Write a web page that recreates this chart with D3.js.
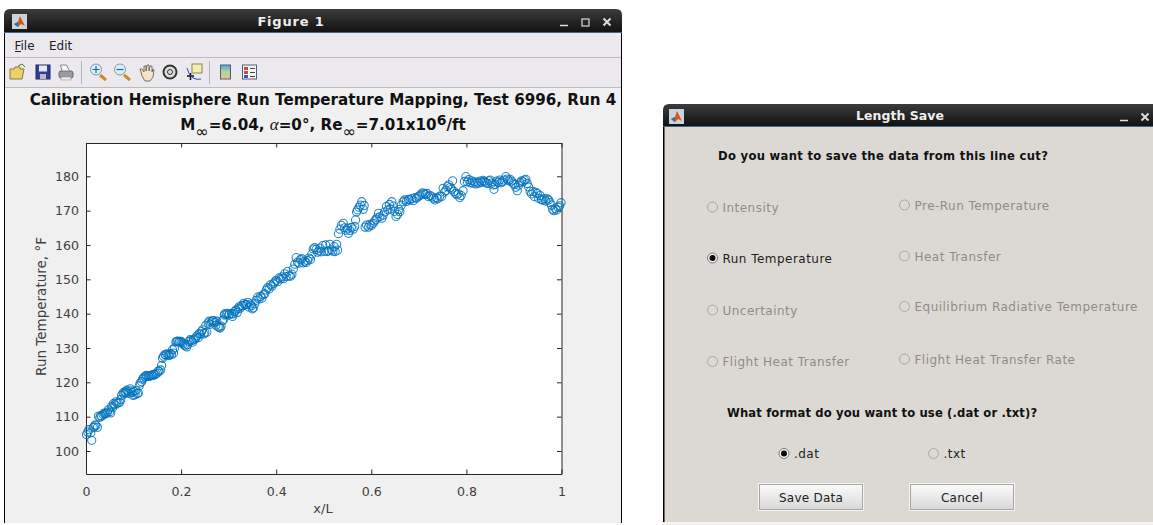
<!DOCTYPE html>
<html lang="en">
<head>
<meta charset="UTF-8">
<title>Run Temperature Line Cut</title>
<script src="https://d3js.org/d3.v7.min.js"></script>
<style>
    html, body { margin: 0; padding: 0; background: #fff; overflow: hidden; }
    svg { display: block; }
    text { font-family: "DejaVu Sans", sans-serif; }
    .tick text { font-size: 12.6px; fill: #404040; font-family: "DejaVu Sans", sans-serif; }
    .tick line, .domain { stroke: #262626; stroke-width: 1; }
</style>
</head>
<body>
<script>
// chart data
const xTicks = [0, 0.2, 0.4, 0.6, 0.8, 1];
const yTicks = [100, 110, 120, 130, 140, 150, 160, 170, 180];
const xOverL = [
  .001,.004,.006,.010,.012,.015,.017,.019,.021,.024,.026,.029,
  .031,.033,.036,.038,.040,.042,.045,.047,.050,.052,.054,.056,
  .058,.061,.063,.065,.068,.071,.073,.075,.078,.080,.082,.084,
  .086,.088,.090,.093,.095,.097,.099,.101,.103,.105,.108,.110,
  .112,.114,.117,.119,.121,.124,.126,.128,.131,.133,.135,.138,
  .140,.142,.145,.147,.150,.152,.154,.157,.159,.161,.163,.166,
  .168,.170,.173,.175,.177,.180,.182,.184,.186,.189,.191,.193,
  .195,.197,.200,.202,.204,.207,.209,.212,.214,.217,.219,.222,
  .224,.226,.229,.231,.233,.236,.238,.241,.243,.245,.248,.250,
  .252,.254,.257,.259,.261,.264,.266,.268,.271,.273,.275,.278,
  .280,.282,.284,.287,.289,.291,.292,.295,.298,.300,.302,.306,
  .308,.310,.313,.315,.318,.320,.322,.324,.327,.330,.332,.335,
  .338,.340,.343,.346,.348,.350,.352,.355,.358,.361,.364,.367,
  .370,.373,.376,.379,.382,.385,.388,.391,.394,.397,.400,.403,
  .406,.409,.412,.415,.418,.421,.424,.427,.430,.433,.436,.439,
  .442,.445,.448,.451,.454,.457,.460,.463,.466,.469,.472,.475,
  .478,.481,.484,.487,.490,.492,.495,.498,.501,.504,.507,.510,
  .513,.516,.519,.522,.524,.527,.529,.531,.534,.537,.541,.544,
  .547,.550,.552,.555,.558,.562,.565,.567,.569,.571,.574,.577,
  .580,.583,.585,.587,.590,.594,.597,.600,.604,.607,.610,.612,
  .615,.618,.622,.625,.628,.632,.635,.638,.640,.643,.646,.649,
  .652,.655,.658,.660,.663,.667,.670,.674,.678,.681,.685,.688,
  .692,.695,.699,.702,.705,.708,.711,.714,.717,.720,.724,.727,
  .731,.734,.737,.740,.744,.748,.751,.754,.757,.760,.763,.766,
  .769,.771,.774,.777,.780,.783,.786,.789,.793,.796,.799,.802,
  .805,.808,.811,.814,.817,.820,.823,.826,.829,.832,.835,.838,
  .841,.844,.847,.850,.853,.856,.858,.861,.864,.867,.870,.873,
  .876,.879,.883,.886,.889,.892,.895,.898,.901,.904,.907,.910,
  .913,.916,.919,.922,.925,.928,.931,.934,.937,.940,.943,.946,
  .949,.952,.955,.958,.961,.964,.967,.970,.973,.976,.979,.981,
  .984,.987,.990,.993,.996,.999
];
const runTemp = [
  104.8,105.5,106.2,105.3,103.1,106.8,107.0,107.6,107.4,106.9,110.1,109.8,
  110.3,110.1,110.6,111.0,110.8,110.9,111.3,112.0,111.4,111.1,113.0,112.6,
  113.8,113.5,114.3,113.9,114.0,114.2,115.0,116.2,116.9,116.6,117.3,117.0,
  117.7,117.2,116.8,118.1,117.5,117.0,116.2,117.4,116.4,117.6,116.7,116.9,
  119.0,119.8,120.2,120.9,121.3,121.6,122.0,121.8,121.9,121.7,121.9,122.1,
  122.0,122.3,122.2,122.5,122.7,123.3,123.2,123.6,124.9,127.0,127.6,128.1,
  127.9,128.3,128.0,127.8,128.4,128.1,129.5,128.5,130.0,131.8,131.9,132.0,
  131.7,131.9,131.9,131.6,131.2,130.9,130.6,130.3,131.0,131.9,132.4,132.2,
  131.7,132.3,132.6,132.9,133.5,133.0,134.2,134.0,134.8,135.3,134.1,134.5,
  136.6,134.6,137.3,137.8,136.9,137.6,137.9,138.0,137.4,136.6,137.8,136.2,
  136.0,135.8,136.4,138.0,138.2,139.6,140.0,139.8,140.1,139.6,139.9,140.0,
  139.2,139.9,140.6,141.0,140.3,141.4,142.0,141.6,142.4,142.3,143.0,142.6,
  142.6,143.3,141.9,142.8,142.3,141.4,141.7,142.9,143.9,144.8,144.3,145.0,
  144.5,145.5,145.8,146.9,147.6,147.2,148.4,148.0,148.7,149.2,149.7,149.3,
  150.4,150.1,150.7,150.2,151.6,150.8,152.3,151.0,150.9,151.5,153.0,154.4,
  156.3,155.0,154.7,155.7,156.0,154.8,155.3,154.9,155.5,156.2,155.8,157.4,
  158.8,159.2,158.7,157.9,158.3,159.1,158.0,159.8,158.2,160.0,158.1,158.3,
  160.2,158.6,158.2,159.5,158.1,160.2,158.5,163.3,164.6,165.7,166.3,165.0,
  164.3,164.9,163.4,164.2,165.1,164.6,165.4,167.3,169.6,170.2,171.0,171.6,
  172.6,170.4,171.5,165.2,165.8,165.2,166.0,165.7,166.3,167.0,167.4,167.9,
  169.2,168.2,167.8,168.7,169.6,171.2,170.2,171.8,170.5,172.6,171.3,169.8,
  168.3,168.9,170.3,169.7,171.6,172.6,173.1,172.7,173.3,173.1,173.5,172.9,
  173.8,173.6,174.1,174.4,174.8,175.2,174.9,174.7,175.0,174.1,174.4,174.0,
  173.6,173.1,173.8,173.5,174.2,174.1,176.5,175.4,175.9,177.0,177.5,176.7,
  176.2,178.7,175.6,175.0,174.6,174.9,173.8,174.4,175.8,178.5,179.9,178.4,
  179.0,178.1,178.7,178.0,178.4,177.8,178.3,178.0,178.6,178.2,178.8,178.5,
  178.2,177.9,178.7,178.9,178.0,177.5,176.2,177.6,178.6,178.2,178.9,178.1,
  178.4,178.9,179.9,179.2,178.7,179.1,178.6,178.0,177.6,176.8,175.8,177.4,
  178.2,178.7,178.4,178.9,179.1,177.9,176.9,175.6,174.9,175.6,174.1,175.3,
  175.0,173.6,174.4,173.2,173.0,173.5,172.8,173.4,173.1,172.4,171.6,170.4,
  170.0,170.6,170.2,171.0,171.4,172.3
];

// dialog text
const radioLabels = ["Intensity", "Pre-Run Temperature", "Run Temperature", "Heat Transfer",
    "Uncertainty", "Equilibrium Radiative Temperature", "Flight Heat Transfer", "Flight Heat Transfer Rate"];
const radioSelected = ["Run Temperature"];
const formatLabels = [".dat", ".txt"];
const buttonLabels = ["Save Data", "Cancel"];

const width = 1153, height = 525;
const svg = d3.select("body").append("svg").attr("width", width).attr("height", height);

const defs = svg.append("defs");
const titleGrad = defs.append("linearGradient").attr("id", "titleGrad").attr("x2", 0).attr("y2", 1);
titleGrad.append("stop").attr("offset", 0).attr("stop-color", "#3c3c3c");
titleGrad.append("stop").attr("offset", 1).attr("stop-color", "#101010");
const btnGrad = defs.append("linearGradient").attr("id", "btnGrad").attr("x2", 0).attr("y2", 1);
btnGrad.append("stop").attr("offset", 0).attr("stop-color", "#fbfbfb");
btnGrad.append("stop").attr("offset", 1).attr("stop-color", "#d8d8d8");
// the reference is a slightly soft screenshot
defs.append("filter").attr("id", "soft").append("feGaussianBlur").attr("stdDeviation", 0.3);

// small matlab logo for the title bars
function logo(x, y) {
    svg.append("rect").attr("x", x).attr("y", y).attr("width", 15).attr("height", 15).attr("fill", "#c9d3dc");
    svg.append("path").attr("d", `M${x + 2} ${y + 10}L${x + 6} ${y + 8}L${x + 8} ${y + 2}L${x + 13} ${y + 12}L${x + 9} ${y + 10}L${x + 6} ${y + 13}Z`).attr("fill", "#d9531e");
    svg.append("path").attr("d", `M${x + 2} ${y + 10}L${x + 6} ${y + 8}L${x + 6} ${y + 13}Z`).attr("fill", "#2a6fb0");
}

function titleBar(x, y, w, h, label, labelX, size, spacing) {
    svg.append("path")
        .attr("d", `M${x} ${y + h}V${y + 6}Q${x} ${y} ${x + 6} ${y}H${x + w - 6}Q${x + w} ${y} ${x + w} ${y + 6}V${y + h}Z`)
        .attr("fill", "url(#titleGrad)");
    svg.append("rect").attr("x", x).attr("y", y + h - 1).attr("width", w).attr("height", 1).attr("fill", "#3f6a8c");
    svg.append("text").attr("x", labelX).attr("y", y + h / 2 + 4.5)
        .attr("text-anchor", "middle").attr("fill", "#eeeeee")
        .attr("font-size", size).attr("font-weight", "bold").attr("letter-spacing", spacing).text(label);
}

// ---------- Figure window ----------
svg.append("rect").attr("x", 4).attr("y", 33).attr("width", 618).attr("height", 490).attr("fill", "#000");
svg.append("rect").attr("x", 5).attr("y", 33).attr("width", 616).attr("height", 24).attr("fill", "#ebe9ee");
svg.append("rect").attr("x", 5).attr("y", 57).attr("width", 616).attr("height", 1).attr("fill", "#bdbbbf");
svg.append("rect").attr("x", 5).attr("y", 58).attr("width", 616).attr("height", 29).attr("fill", "#ebe9ee");
svg.append("rect").attr("x", 5).attr("y", 87).attr("width", 616).attr("height", 1).attr("fill", "#bdbbbf");
svg.append("rect").attr("x", 5).attr("y", 88).attr("width", 616).attr("height", 435).attr("fill", "#f0f0f0");
titleBar(4, 9, 618, 24, "Figure 1", 291, 13, 0.8);
logo(12, 14);

// window buttons
const wb = svg.append("g").attr("stroke", "#dddddd").attr("fill", "none").attr("stroke-width", 1.5);
wb.append("path").attr("d", "M560 25.5h8");
wb.append("rect").attr("x", 582).attr("y", 19).attr("width", 7).attr("height", 7).attr("stroke-width", 1.2);
wb.append("path").attr("d", "M603.5 18.5l7 7m0 -7l-7 7").attr("stroke-width", 2);

// menu
svg.append("text").attr("x", 14.5).attr("y", 50).attr("font-size", 12).attr("fill", "#222")
    .attr("font-family", "Liberation Sans").text("File");
svg.append("rect").attr("x", 15).attr("y", 51).attr("width", 6).attr("height", 1).attr("fill", "#222");
svg.append("text").attr("x", 49).attr("y", 50).attr("font-size", 12).attr("fill", "#222")
    .attr("font-family", "Liberation Sans").text("Edit");

// toolbar icons
const tb = svg.append("g");
tb.append("path").attr("d", "M10 79V69h4l1 -2h5v2h4l-2 10Z").attr("fill", "#f0cf6a").attr("stroke", "#8a7a32");
tb.append("path").attr("d", "M18 66l4 -2 3 3").attr("fill", "none").attr("stroke", "#4a7a3a");
tb.append("rect").attr("x", 36).attr("y", 65).attr("width", 14).attr("height", 14).attr("fill", "#2f3f9a").attr("stroke", "#1f2a66");
tb.append("rect").attr("x", 39).attr("y", 65.5).attr("width", 8).attr("height", 6).attr("fill", "#e8e8f0");
tb.append("rect").attr("x", 40).attr("y", 74).attr("width", 6).attr("height", 5).attr("fill", "#b8b8c8");
tb.append("rect").attr("x", 59).attr("y", 71).attr("width", 14).attr("height", 7).attr("rx", 2).attr("fill", "#9a9aa0").attr("stroke", "#66666a");
tb.append("path").attr("d", "M62 71L60.5 65h6l3 6Z").attr("fill", "#f4f4f4").attr("stroke", "#888");
tb.append("rect").attr("x", 61).attr("y", 77).attr("width", 10).attr("height", 3).attr("fill", "#e8e8e8").attr("stroke", "#888").attr("stroke-width", 0.5);
[81, 209].forEach(x => tb.append("rect").attr("x", x).attr("y", 61).attr("width", 1).attr("height", 23).attr("fill", "#b5b3b8"));
[[96, "M92.5 69.5h7M96 66v7"], [120, "M116.5 69.5h7"]].forEach(([cx, sign]) => {
    tb.append("path").attr("d", `M${cx + 4} 75l6 5`).attr("stroke", "#d08a2a").attr("stroke-width", 3);
    tb.append("circle").attr("cx", cx).attr("cy", 69.5).attr("r", 5.5).attr("fill", "#dcecf6").attr("stroke", "#7a9ab0");
    tb.append("path").attr("d", sign).attr("stroke", "#2a6a8a").attr("stroke-width", 1.2);
});
tb.append("path").attr("d", "M141 72l-1 -3 2 0 2 3 0 -6 2 0 0 5 1 -6 2 0 0 6 1 -5 2 0 0 6 1 -3 1 1 -1 7 -3 4h-5l-3 -5Z")
    .attr("fill", "#f6e2c8").attr("stroke", "#555").attr("stroke-width", 0.8);
tb.append("circle").attr("cx", 170).attr("cy", 72).attr("r", 6.5).attr("fill", "#dddddd").attr("stroke", "#333").attr("stroke-width", 2);
tb.append("circle").attr("cx", 170).attr("cy", 72).attr("r", 2.5).attr("fill", "none").attr("stroke", "#333");
tb.append("rect").attr("x", 192).attr("y", 64).attr("width", 10).attr("height", 9).attr("fill", "#f2eeb0").attr("stroke", "#8a8a3a");
tb.append("path").attr("d", "M187 76h7M190.5 73v7").attr("stroke", "#111").attr("stroke-width", 1.5);
tb.append("path").attr("d", "M187 68q2 8 6 10t8 1").attr("fill", "none").attr("stroke", "#3344cc");
const cbGrad = defs.append("linearGradient").attr("id", "cbGrad").attr("x2", 0).attr("y2", 1);
[["0", "#5aa0d8"], ["0.5", "#a8d8a0"], ["1", "#f0c080"]].forEach(s => cbGrad.append("stop").attr("offset", s[0]).attr("stop-color", s[1]));
tb.append("rect").attr("x", 220.5).attr("y", 65).attr("width", 10).attr("height", 14).attr("fill", "url(#cbGrad)").attr("stroke", "#50607a");
tb.append("rect").attr("x", 242.5).attr("y", 65).attr("width", 14).attr("height", 14).attr("fill", "#f6f6f6").attr("stroke", "#50607a");
[[244, 67, "#d84040"], [244, 71, "#d84040"], [244, 75, "#4050d0"]].forEach(r => tb.append("rect").attr("x", r[0]).attr("y", r[1]).attr("width", 4).attr("height", 3).attr("fill", r[2]));
[68, 72, 76].forEach(y => tb.append("rect").attr("x", 250).attr("y", y).attr("width", 5).attr("height", 1).attr("fill", "#444"));

// title
svg.append("text").attr("x", 323).attr("y", 105).attr("text-anchor", "middle")
    .attr("font-size", 15.15).attr("font-weight", "bold").attr("fill", "#111")
    .text("Calibration Hemisphere Run Temperature Mapping, Test 6996, Run 4");
const sub = svg.append("text").attr("x", 323).attr("y", 130).attr("text-anchor", "middle")
    .attr("font-size", 15.15).attr("font-weight", "bold").attr("fill", "#111");
sub.append("tspan").text("M");
sub.append("tspan").attr("dy", 7).attr("font-size", 16).attr("font-weight", "normal").text("∞");
sub.append("tspan").attr("dy", -7).text("=6.04, ");
sub.append("tspan").attr("font-family", "Liberation Serif").attr("font-style", "italic").attr("font-weight", "normal").attr("font-size", 17).text("α");
sub.append("tspan").text("=0°, Re");
sub.append("tspan").attr("dy", 7).attr("font-size", 16).attr("font-weight", "normal").text("∞");
sub.append("tspan").attr("dy", -7).text("=7.01x10");
sub.append("tspan").attr("dy", -5).attr("font-size", 14).text("6");
sub.append("tspan").attr("dy", 5).text("/ft");

// axes
const plot = { left: 86, right: 561.5, top: 143, bottom: 474 };
svg.append("rect").attr("x", plot.left).attr("y", plot.top)
    .attr("width", plot.right - plot.left).attr("height", plot.bottom - plot.top).attr("fill", "#fff");

const xScale = d3.scaleLinear().domain([0, 1]).range([plot.left, plot.right]);
const yScale = d3.scaleLinear().domain([93.3, 189.7]).range([plot.bottom, plot.top]);

svg.append("g").attr("transform", `translate(0,${plot.bottom})`)
    .call(d3.axisBottom(xScale).tickValues(xTicks).tickFormat(d3.format("~g")).tickSizeInner(-4.5).tickSizeOuter(0).tickPadding(13));
svg.append("g").attr("transform", `translate(0,${plot.top})`)
    .call(d3.axisTop(xScale).tickValues(xTicks).tickFormat("").tickSizeInner(-4.5).tickSizeOuter(0));
svg.append("g").attr("transform", `translate(${plot.left},0)`)
    .call(d3.axisLeft(yScale).tickValues(yTicks).tickSizeInner(-4.5).tickSizeOuter(0).tickPadding(7));
svg.append("g").attr("transform", `translate(${plot.right},0)`)
    .call(d3.axisRight(yScale).tickValues(yTicks).tickFormat("").tickSizeInner(-4.5).tickSizeOuter(0));

svg.append("g").attr("filter", "url(#soft)").selectAll("circle")
    .data(d3.zip(xOverL, runTemp))
    .enter()
    .append("circle")
    .attr("cx", d => xScale(d[0]))
    .attr("cy", d => yScale(d[1]))
    .attr("r", 4.1)
    .attr("fill", "none")
    .attr("stroke", "#0072BD")
    .attr("stroke-opacity", 0.85)
    .attr("stroke-width", 1.05);

svg.append("text").attr("x", 323).attr("y", 513).attr("text-anchor", "middle")
    .attr("font-size", 13).attr("fill", "#404040").text("x/L");
svg.append("text").attr("transform", "translate(46,306.5) rotate(-90)").attr("text-anchor", "middle")
    .attr("font-size", 13.5).attr("fill", "#404040").text("Run Temperature, °F");

// ---------- Length Save dialog ----------
svg.append("rect").attr("x", 663).attr("y", 126).attr("width", 490).attr("height", 399).attr("fill", "#000");
svg.append("rect").attr("x", 664.5).attr("y", 127).attr("width", 489).attr("height", 395).attr("fill", "#dcd9d4");
svg.append("rect").attr("x", 663).attr("y", 522).attr("width", 490).attr("height", 3).attr("fill", "#f4f3f1");
titleBar(663, 104, 495, 23, "Length Save", 900, 12.5, 0.05);
logo(669, 109);
const db = svg.append("g").attr("stroke", "#dddddd").attr("fill", "none");
db.append("path").attr("d", "M1120 120.5h8").attr("stroke-width", 1.5);
db.append("path").attr("d", "M1141.5 113.5l7 7m0 -7l-7 7").attr("stroke-width", 2);

function dialogText(x, y, label, style) {
    svg.append("text").attr("x", x).attr("y", y).attr("font-size", style.size).attr("font-weight", style.weight)
        .attr("fill", style.fill).attr("letter-spacing", style.spacing).text(label);
}
dialogText(718, 160, "Do you want to save the data from this line cut?", { size: 11.6, weight: "bold", fill: "#111", spacing: 0.3 });
dialogText(727, 417, "What format do you want to use (.dat or .txt)?", { size: 11.6, weight: "bold", fill: "#111", spacing: 0.14 });

function radio(cx, cy, on) {
    svg.append("circle").attr("cx", cx).attr("cy", cy).attr("r", 5).attr("fill", on ? "#f4f4f4" : "#dcd9d4")
        .attr("stroke", on ? "#777" : "#aaa8a4");
    if (on) svg.append("circle").attr("cx", cx).attr("cy", cy).attr("r", 3).attr("fill", "#000");
}

// layout of the radio rows: left column, right column
const radioSpots = [[712.5, 207], [904.5, 205], [712.5, 258], [904.5, 256], [712.5, 310], [904.5, 306.5], [712.5, 361.5], [904.5, 359]];
radioLabels.forEach((label, i) => {
    const on = radioSelected.includes(label);
    const [cx, cy] = radioSpots[i];
    radio(cx, cy, on);
    dialogText(cx + 10, cy + 4.5, label, { size: 12, weight: "normal", fill: on ? "#222" : "#8e8c88", spacing: 0.47 });
});

const formatSpots = [[784, 453.5], [933.5, 453.5]];
formatLabels.forEach((label, i) => {
    const [cx, cy] = formatSpots[i];
    radio(cx, cy, i === 0);
    dialogText(cx + 10, cy + 4.5, label, { size: 12, weight: "normal", fill: "#222", spacing: 0.47 });
});

const buttonSpots = [758, 909];
buttonLabels.forEach((label, i) => {
    const x = buttonSpots[i];
    svg.append("rect").attr("x", x).attr("y", 483).attr("width", 106).attr("height", 28).attr("fill", "#f6f5f3");
    svg.append("rect").attr("x", x + 1.5).attr("y", 484.5).attr("width", 103).attr("height", 25)
        .attr("fill", "url(#btnGrad)").attr("stroke", "#a8a6a2");
    svg.append("text").attr("x", x + 53).attr("y", 502).attr("text-anchor", "middle").attr("font-size", 12)
        .attr("fill", "#222").attr("letter-spacing", 0.25).text(label);
});
</script>
</body>
</html>
